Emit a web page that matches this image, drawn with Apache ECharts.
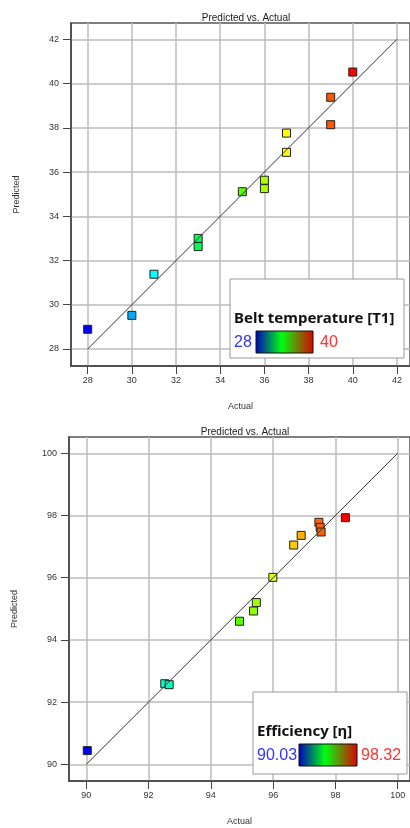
<!DOCTYPE html>
<html>
<head>
<meta charset="utf-8">
<script src="https://cdn.jsdelivr.net/npm/echarts@6/dist/echarts.min.js"></script>
<style>
  html, body { margin: 0; padding: 0; background: #fff; }
  #main { width: 410px; height: 828px; }
</style>
</head>
<body>
<div id="main"></div>
<script>
// top plot: belt temperature T1
const t1Actual = [28, 30, 31, 33, 33, 35, 36, 36, 37, 37, 39, 39, 40];
const t1Predicted = [28.89, 29.52, 31.38, 33.0, 32.63, 35.11, 35.63, 35.25, 37.76, 36.89, 39.38, 38.14, 40.52];
const t1Range = [28, 40];
const t1Ticks = [28, 30, 32, 34, 36, 38, 40, 42];

// bottom plot: efficiency
const effActual = [90.03, 92.52, 92.66, 94.92, 95.37, 95.46, 95.99, 96.66, 96.9, 97.47, 97.51, 97.54, 98.32];
const effPredicted = [90.44, 92.59, 92.56, 94.6, 94.93, 95.2, 96.01, 97.05, 97.36, 97.78, 97.62, 97.47, 97.93];
const effRange = [90.03, 98.32];
const effTicks = [90, 92, 94, 96, 98, 100];

const rainbow = ['#0000f0', '#00ffff', '#00ff00', '#ffff00', '#ff0000'];
const font = 'Liberation Sans';

function zip(a, b) {
  return a.map((v, i) => [v, b[i]]);
}

function xAx(grid, min, max, ticks) {
  return {
    type: 'value', gridIndex: grid, min: min, max: max,
    name: 'Actual', nameLocation: 'middle', nameGap: 36,
    nameTextStyle: { fontSize: 9, color: '#333', fontFamily: font },
    axisLine: { show: true, lineStyle: { color: '#444', width: 1.5 } },
    axisTick: { show: true, length: 8, customValues: ticks, lineStyle: { color: '#444' } },
    axisLabel: { customValues: ticks, fontSize: 9, color: '#333', fontFamily: font, margin: 10 },
    splitLine: { show: true, lineStyle: { color: '#bdbdbd', width: 1.5 } }
  };
}

function yAx(grid, min, max, ticks) {
  return {
    type: 'value', gridIndex: grid, min: min, max: max,
    name: 'Predicted', nameLocation: 'middle', nameGap: 50,
    nameTextStyle: { fontSize: 9, color: '#333', fontFamily: font },
    axisLine: { show: true, lineStyle: { color: '#444', width: 1.5 } },
    axisTick: { show: true, length: 8, customValues: ticks, lineStyle: { color: '#444' } },
    axisLabel: { customValues: ticks, fontSize: 9, color: '#333', fontFamily: font, margin: 12 },
    splitLine: { show: true, lineStyle: { color: '#bdbdbd', width: 1.5 } }
  };
}

function legendBox(x, y, w, h, title, range, barX, barW, hiX) {
  const grad = new echarts.graphic.LinearGradient(0, 0, 1, 0, [
    { offset: 0, color: '#0000c0' },
    { offset: 0.45, color: '#00ff10' },
    { offset: 1, color: '#e00000' }
  ]);
  return {
    type: 'group',
    children: [
      { type: 'rect', z: 100, shape: { x: x, y: y, width: w, height: h },
        style: { fill: '#fff', stroke: '#999', lineWidth: 1 } },
      { type: 'text', z: 101, x: x + 4, y: y + 40,
        style: { text: title, fontSize: 15, fontWeight: 'bold', fontFamily: 'Noto Sans',
          fill: '#111', verticalAlign: 'middle' } },
      { type: 'text', z: 101, x: x + 4, y: y + 64,
        style: { text: String(range[0]), fontSize: 16, fontFamily: font,
          fill: '#3333ff', verticalAlign: 'middle' } },
      { type: 'rect', z: 101, shape: { x: barX, y: y + 52, width: barW, height: 22 },
        style: { fill: grad, stroke: '#111', lineWidth: 1 } },
      { type: 'text', z: 101, x: hiX, y: y + 64,
        style: { text: String(range[1]), fontSize: 16, fontFamily: font,
          fill: '#ff3333', verticalAlign: 'middle' } }
    ]
  };
}

var myChart = echarts.init(document.getElementById('main'));
myChart.setOption({
  animation: false,
  backgroundColor: '#fff',
  title: [
    { text: 'Predicted vs. Actual', left: 241, top: 8, textAlign: 'center',
      textStyle: { fontSize: 10, fontWeight: 'normal', color: '#222', fontFamily: font } },
    { text: 'Predicted vs. Actual', left: 240, top: 422, textAlign: 'center',
      textStyle: { fontSize: 10, fontWeight: 'normal', color: '#222', fontFamily: font } }
  ],
  grid: [
    { left: 71, top: 23, width: 339, height: 343, show: true, borderColor: '#555', borderWidth: 1.5 },
    { left: 69, top: 437, width: 341, height: 344, show: true, borderColor: '#555', borderWidth: 1.5 }
  ],
  xAxis: [
    xAx(0, 27.245, 42.59, t1Ticks),
    xAx(1, 89.444, 100.395, effTicks)
  ],
  yAxis: [
    yAx(0, 27.231, 42.737, t1Ticks),
    yAx(1, 89.463, 100.524, effTicks)
  ],
  visualMap: [
    { type: 'continuous', show: false, seriesIndex: 1, dimension: 0,
      min: t1Range[0], max: t1Range[1], inRange: { color: rainbow } },
    { type: 'continuous', show: false, seriesIndex: 3, dimension: 0,
      min: effRange[0], max: effRange[1], inRange: { color: rainbow } }
  ],
  series: [
    { type: 'line', xAxisIndex: 0, yAxisIndex: 0, silent: true, symbol: 'none',
      data: [[t1Ticks[0], t1Ticks[0]], [t1Ticks[t1Ticks.length - 1], t1Ticks[t1Ticks.length - 1]]],
      lineStyle: { color: '#333', width: 1 } },
    { type: 'scatter', xAxisIndex: 0, yAxisIndex: 0, symbol: 'rect', symbolSize: 8,
      data: zip(t1Actual, t1Predicted),
      itemStyle: { borderColor: '#222', borderWidth: 1, opacity: 1 } },
    { type: 'line', xAxisIndex: 1, yAxisIndex: 1, silent: true, symbol: 'none',
      data: [[effTicks[0], effTicks[0]], [effTicks[effTicks.length - 1], effTicks[effTicks.length - 1]]],
      lineStyle: { color: '#333', width: 1 } },
    { type: 'scatter', xAxisIndex: 1, yAxisIndex: 1, symbol: 'rect', symbolSize: 8,
      data: zip(effActual, effPredicted),
      itemStyle: { borderColor: '#222', borderWidth: 1, opacity: 1 } }
  ],
  graphic: [
    legendBox(230, 279, 174, 79, 'Belt temperature [T1]', t1Range, 256, 57, 320),
    legendBox(253, 692, 154, 82, 'Efficiency [η]', effRange, 299, 58, 361)
  ]
});
</script>
</body>
</html>
